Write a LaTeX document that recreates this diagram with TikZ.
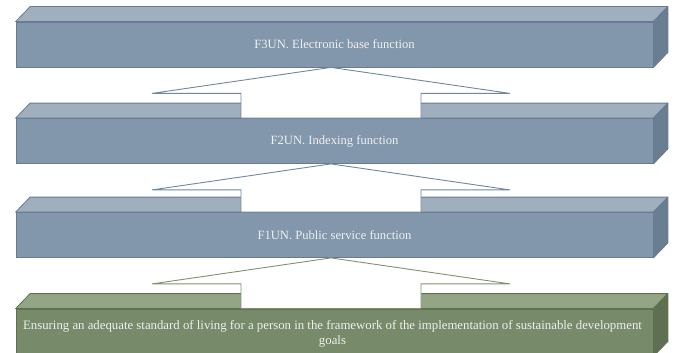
\documentclass[tikz,border=0pt]{standalone}
\usepackage{fontspec}
\setmainfont{Liberation Serif}
\usetikzlibrary{calc}
\definecolor{bfront}{HTML}{8397AC}
\definecolor{btop}{HTML}{9FAFBE}
\definecolor{bside}{HTML}{6A7E92}
\definecolor{bline}{HTML}{687B90}
\definecolor{barrow}{HTML}{7186A0}
\definecolor{gfront}{HTML}{778A69}
\definecolor{gtop}{HTML}{94A585}
\definecolor{gside}{HTML}{5E7052}
\definecolor{gline}{HTML}{5F7153}
\definecolor{garrow}{HTML}{7E9270}
\definecolor{txt}{HTML}{EEF0F2}
\tikzset{
  front/.style={rectangle, draw=bline, fill=bfront, line width=0.8pt, inner sep=0pt,
    minimum width=637pt, minimum height=45pt, text=txt, font=\fontsize{12.6}{15}\selectfont},
  gfrontbox/.style={front, draw=gline, fill=gfront, minimum height=47pt, align=center,
    font=\fontsize{12.8}{15}\selectfont},
  topface/.style={draw=bline, fill=btop, line width=0.8pt, line join=round},
  sideface/.style={draw=bline, fill=bside, line width=0.8pt, line join=round},
  gtopface/.style={draw=gline, fill=gtop, line width=0.8pt, line join=round},
  gsideface/.style={draw=gline, fill=gside, line width=0.8pt, line join=round},
  uparrow/.style={draw=barrow, fill=white, line width=0.9pt, line join=miter},
  guparrow/.style={uparrow, draw=garrow}
}
\newcommand{\faces}[3]{%
  \draw[#2] (#1.north west) -- ++(14.5pt,15pt) -- ($(#1.north east)+(14.5pt,15pt)$) -- (#1.north east) -- cycle;
  \draw[#3] (#1.north east) -- ++(14.5pt,15pt) -- ($(#1.south east)+(14.5pt,15pt)$) -- (#1.south east) -- cycle;
}
\newcommand{\uparr}[4]{%
  \coordinate (t#4) at ($(#2.south)+(-3.5pt,0)$);
  \coordinate (b#4) at ($(#3.north)+(-3.5pt,0)$);
  \draw[#1] let \p1=(t#4), \p2=(b#4) in
    (\p1) -- (\x1+179pt,\y1-26pt) -- (\x1+90pt,\y1-26pt) -- (\x1+90pt,\y2)
    -- (\x1-90pt,\y2) -- (\x1-90pt,\y1-26pt) -- (\x1-179pt,\y1-26pt) -- cycle;
}
\begin{document}
\begin{tikzpicture}[x=1pt,y=1pt]
\useasboundingbox (0,0) rectangle (675,-353);
\node[front] (f3) at (334.5,-44.5) {F3UN. Electronic base function};
\faces{f3}{topface}{sideface}
\node[front] (f2) at (334.5,-141) {F2UN. Indexing function};
\faces{f2}{topface}{sideface}
\node[front] (f1) at (334.5,-235) {F1UN. Public service function};
\faces{f1}{topface}{sideface}
\node[gfrontbox] (g0) at (334.5,-332.5) {};
\node[text=txt, align=center, inner sep=0pt, font=\fontsize{12.8}{15}\selectfont] (gt) at (332.5,-334) {Ensuring an adequate standard of living for a person in the framework of the implementation of sustainable development\\goals};
\faces{g0}{gtopface}{gsideface}
\uparr{uparrow}{f3}{f2}{a}
\uparr{uparrow}{f2}{f1}{b}
\uparr{guparrow}{f1}{g0}{c}
\end{tikzpicture}
\end{document}
